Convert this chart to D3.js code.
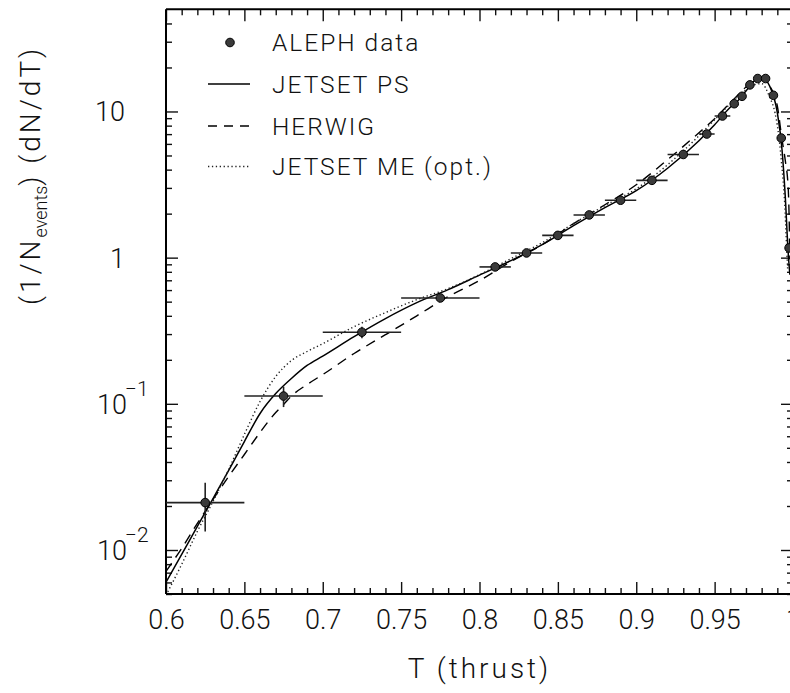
<!DOCTYPE html>
<html>
<head>
<meta charset="utf-8">
<script src="https://cdn.jsdelivr.net/npm/d3@7"></script>
<style>
  body { margin: 0; background: #fff; }
  svg text { font-family: Roboto, "DejaVu Sans", sans-serif; font-weight: 300; fill: #111; }
</style>
</head>
<body>
<div id="chart"></div>
<script>
// ALEPH thrust data (bin edges, centres, values, errors)
const binLo = [0.60, 0.65, 0.70, 0.75, 0.80, 0.82, 0.84, 0.86, 0.88, 0.90, 0.92, 0.94, 0.95, 0.96, 0.965, 0.97, 0.975, 0.98, 0.985, 0.99, 0.995];
const binHi = [0.65, 0.70, 0.75, 0.80, 0.82, 0.84, 0.86, 0.88, 0.90, 0.92, 0.94, 0.95, 0.96, 0.965, 0.97, 0.975, 0.98, 0.985, 0.99, 0.995, 1.0];
const alephT = [0.625, 0.675, 0.725, 0.775, 0.81, 0.83, 0.85, 0.87, 0.89, 0.91, 0.93, 0.945, 0.955, 0.9625, 0.9675, 0.9725, 0.9775, 0.9825, 0.9875, 0.9925, 0.9975];
const alephY = [0.0211, 0.113, 0.309, 0.53, 0.864, 1.077, 1.42, 1.96, 2.47, 3.38, 5.08, 7.01, 9.31, 11.3, 12.7, 15.2, 16.8, 16.8, 12.9, 6.58, 1.165];
const alephErr = [0.0077, 0.018, 0.028, 0.02, 0.02, 0.02, 0.03, 0.04, 0.05, 0.06, 0.08, 0.1, 0.12, 0.15, 0.15, 0.18, 0.2, 0.2, 0.15, 0.1, 0.05];

// JETSET PS (solid)
const psT = [0.6, 0.61, 0.62, 0.63, 0.64, 0.65, 0.66, 0.67, 0.68, 0.69, 0.70, 0.72, 0.74, 0.76, 0.78, 0.80, 0.82, 0.84, 0.86, 0.88, 0.90, 0.92, 0.94, 0.95, 0.96, 0.965, 0.97, 0.975, 0.98, 0.985, 0.99, 0.993, 0.995, 0.997, 0.998];
const psY = [0.00601, 0.00933, 0.0145, 0.0225, 0.035, 0.0552, 0.0859, 0.1175, 0.149, 0.183, 0.212, 0.288, 0.383, 0.492, 0.604, 0.759, 0.954, 1.227, 1.655, 2.20, 2.87, 4.09, 6.31, 8.11, 10.7, 11.9, 13.8, 16.1, 17.1, 15.0, 9.8, 5.47, 2.70, 1.05, 0.765];

// HERWIG (dashed)
const hwT = [0.6, 0.61, 0.62, 0.63, 0.64, 0.65, 0.66, 0.67, 0.675, 0.68, 0.69, 0.70, 0.72, 0.74, 0.76, 0.78, 0.80, 0.82, 0.84, 0.86, 0.88, 0.90, 0.92, 0.94, 0.95, 0.96, 0.965, 0.97, 0.975, 0.98, 0.985, 0.99, 0.993, 0.995, 0.997, 0.9975, 0.998];
const hwY = [0.00714, 0.01026, 0.0152, 0.0222, 0.0319, 0.045, 0.0637, 0.0872, 0.0989, 0.113, 0.1355, 0.1585, 0.221, 0.297, 0.40, 0.541, 0.697, 0.939, 1.227, 1.71, 2.30, 3.15, 4.68, 7.15, 8.91, 11.5, 13.0, 14.7, 16.2, 16.7, 15.0, 10.9, 6.41, 4.68, 2.92, 1.97, 0.97];

// JETSET ME opt. (dotted)
const meT = [0.6, 0.61, 0.62, 0.63, 0.64, 0.65, 0.66, 0.67, 0.68, 0.69, 0.70, 0.72, 0.74, 0.76, 0.78, 0.80, 0.82, 0.84, 0.86, 0.88, 0.90, 0.92, 0.94, 0.95, 0.96, 0.965, 0.97, 0.975, 0.98, 0.985, 0.9885, 0.9905, 0.9925, 0.995, 0.996, 0.9966];
const meY = [0.0049, 0.00797, 0.0134, 0.0215, 0.0356, 0.0617, 0.1037, 0.1537, 0.1977, 0.228, 0.258, 0.337, 0.421, 0.516, 0.614, 0.765, 0.984, 1.266, 1.71, 2.27, 2.96, 4.32, 6.82, 8.78, 11.3, 12.8, 14.1, 15.2, 15.5, 12.6, 9.8, 7.38, 4.68, 2.03, 1.13, 0.828];

// axis ticks
const xMajor = [0.6, 0.65, 0.7, 0.75, 0.8, 0.85, 0.9, 0.95, 1.0];
const xTickLabels = ["0.6", "0.65", "0.7", "0.75", "0.8", "0.85", "0.9", "0.95", "1"];
const xMinor = d3.range(60, 101).filter(d => d % 5 !== 0).map(d => d / 100);
const yMajor = [0.01, 0.1, 1, 10];
const yBase = ["10", "10", "1", "10"];
const yExp = ["−2", "−1", "", ""];
const yMinor = [0.005, 0.006, 0.007, 0.008, 0.009, 0.02, 0.03, 0.04, 0.05, 0.06, 0.07, 0.08, 0.09,
  0.2, 0.3, 0.4, 0.5, 0.6, 0.7, 0.8, 0.9, 2, 3, 4, 5, 6, 7, 8, 9, 20, 30, 40];

const legendNames = ["ALEPH data", "JETSET PS", "HERWIG", "JETSET ME (opt.)"];

const W = 790, H = 693;
const pLeft = 166, pRight = 793, pTop = 9.3, pBottom = 594;

const svg = d3.select("#chart").append("svg")
    .attr("width", W)
    .attr("height", H);

const x = d3.scaleLinear().domain([0.6, 1.0]).range([pLeft, pRight]);
const y = d3.scaleLog().domain([0.005, 50]).range([pBottom, pTop]);

svg.append("defs").append("clipPath").attr("id", "plotClip")
    .append("rect")
    .attr("x", pLeft).attr("y", pTop)
    .attr("width", pRight - pLeft).attr("height", pBottom - pTop);

// ticks: inward, on all four sides
function styleAxis(g) {
    g.select(".domain").remove();
    g.selectAll(".tick line").attr("stroke", "#111").attr("stroke-width", 1.4);
}

svg.append("g")
    .attr("transform", "translate(0," + pBottom + ")")
    .call(d3.axisBottom(x).tickValues(xMajor).tickSize(-12).tickPadding(16)
        .tickFormat((d, i) => xTickLabels[i]))
    .call(styleAxis)
    .call(g => g.selectAll("text").attr("font-size", 27).attr("fill", "#111"));

svg.append("g")
    .attr("transform", "translate(0," + pBottom + ")")
    .call(d3.axisBottom(x).tickValues(xMinor).tickSize(-6).tickFormat(""))
    .call(styleAxis);

svg.append("g")
    .attr("transform", "translate(0," + pTop + ")")
    .call(d3.axisTop(x).tickValues(xMajor).tickSize(-12).tickFormat(""))
    .call(styleAxis);

svg.append("g")
    .attr("transform", "translate(0," + pTop + ")")
    .call(d3.axisTop(x).tickValues(xMinor).tickSize(-6).tickFormat(""))
    .call(styleAxis);

svg.append("g")
    .attr("transform", "translate(" + pLeft + ",0)")
    .call(d3.axisLeft(y).tickValues(yMajor).tickSize(-12).tickFormat(""))
    .call(styleAxis);

svg.append("g")
    .attr("transform", "translate(" + pLeft + ",0)")
    .call(d3.axisLeft(y).tickValues(yMinor).tickSize(-6).tickFormat(""))
    .call(styleAxis);

svg.append("g")
    .attr("transform", "translate(" + pRight + ",0)")
    .call(d3.axisRight(y).tickValues(yMajor).tickSize(-12).tickFormat(""))
    .call(styleAxis);

svg.append("g")
    .attr("transform", "translate(" + pRight + ",0)")
    .call(d3.axisRight(y).tickValues(yMinor).tickSize(-6).tickFormat(""))
    .call(styleAxis);

// y tick labels with superscripts
const yLab = svg.append("g").selectAll("text")
    .data(yMajor)
    .join("text")
    .attr("x", (d, i) => yExp[i] ? 97 : 125)
    .attr("y", d => y(d) + 10)
    .attr("text-anchor", (d, i) => yExp[i] ? "start" : "end")
    .attr("font-size", 27);
yLab.append("tspan").text((d, i) => yBase[i]);
yLab.append("tspan")
    .attr("font-size", 21)
    .attr("dx", -2)
    .attr("dy", -18)
    .text((d, i) => yExp[i]);

// frame
const frame = svg.append("g").attr("stroke", "#000").attr("stroke-width", 2);
frame.append("line").attr("x1", pLeft).attr("x2", pRight).attr("y1", pTop).attr("y2", pTop);
frame.append("line").attr("x1", pLeft).attr("x2", pRight).attr("y1", pBottom).attr("y2", pBottom);
frame.append("line").attr("x1", pLeft).attr("x2", pLeft).attr("y1", pTop).attr("y2", pBottom);
frame.append("line").attr("x1", pRight).attr("x2", pRight).attr("y1", pTop).attr("y2", pBottom);

// axis titles
svg.append("text")
    .attr("x", (pLeft + pRight) / 2)
    .attr("y", 678)
    .attr("text-anchor", "middle")
    .attr("font-size", 28)
    .attr("letter-spacing", 3)
    .text("T (thrust)");

const yTitle = svg.append("text")
    .attr("transform", "translate(40,305) rotate(-90)")
    .attr("font-size", 28)
    .attr("letter-spacing", 3);
yTitle.append("tspan").text("(1/N");
yTitle.append("tspan").attr("font-size", 18).attr("letter-spacing", 0).attr("dy", 7).text("events");
yTitle.append("tspan").attr("dy", -7).text(") (dN/dT)");

// MC curves
const line = d3.line()
    .x(d => x(d[0]))
    .y(d => y(d[1]))
    .curve(d3.curveMonotoneX);

const curves = [
    { t: psT, v: psY, dash: null, w: 1.5, c: "#000" },
    { t: hwT, v: hwY, dash: "10,7", w: 1.4, c: "#000" },
    { t: meT, v: meY, dash: "1.3,2.6", w: 1.4, c: "#222" }
];

const plot = svg.append("g").attr("clip-path", "url(#plotClip)");

curves.forEach(cv => {
    plot.append("path")
        .datum(cv.t.map((t, i) => [t, cv.v[i]]))
        .attr("fill", "none")
        .attr("stroke", cv.c)
        .attr("stroke-width", cv.w)
        .attr("stroke-dasharray", cv.dash)
        .attr("d", line);
});

// data: error bars then markers
const pts = plot.append("g");
pts.selectAll(".xerr")
    .data(alephT)
    .join("line")
    .attr("class", "xerr")
    .attr("x1", (d, i) => x(binLo[i]))
    .attr("x2", (d, i) => x(binHi[i]))
    .attr("y1", (d, i) => y(alephY[i]))
    .attr("y2", (d, i) => y(alephY[i]))
    .attr("stroke", "#222")
    .attr("stroke-width", 1.6);

pts.selectAll(".yerr")
    .data(alephT)
    .join("line")
    .attr("class", "yerr")
    .attr("x1", d => x(d))
    .attr("x2", d => x(d))
    .attr("y1", (d, i) => y(alephY[i] + alephErr[i]))
    .attr("y2", (d, i) => y(alephY[i] - alephErr[i]))
    .attr("stroke", "#222")
    .attr("stroke-width", 1.6);

pts.selectAll("circle")
    .data(alephT)
    .join("circle")
    .attr("cx", d => x(d))
    .attr("cy", (d, i) => y(alephY[i]))
    .attr("r", 4.3)
    .attr("fill", "#3a3a3a")
    .attr("stroke", "#000")
    .attr("stroke-width", 1);

// legend
const legY = [42.5, 84, 126, 166.5];
const leg = svg.append("g");
leg.append("circle")
    .attr("cx", 230).attr("cy", legY[0]).attr("r", 4.3)
    .attr("fill", "#3a3a3a").attr("stroke", "#000");
curves.forEach((cv, i) => {
    leg.append("line")
        .attr("x1", 208).attr("x2", 250)
        .attr("y1", legY[i + 1]).attr("y2", legY[i + 1])
        .attr("stroke", cv.c)
        .attr("stroke-width", cv.w)
        .attr("stroke-dasharray", cv.dash === "10,7" ? "9,7" : cv.dash);
});
leg.selectAll("text")
    .data(legendNames)
    .join("text")
    .attr("x", 272)
    .attr("y", (d, i) => legY[i] + 8.5)
    .attr("font-size", 24.5)
    .attr("letter-spacing", 2)
    .text(d => d);
</script>
</body>
</html>
